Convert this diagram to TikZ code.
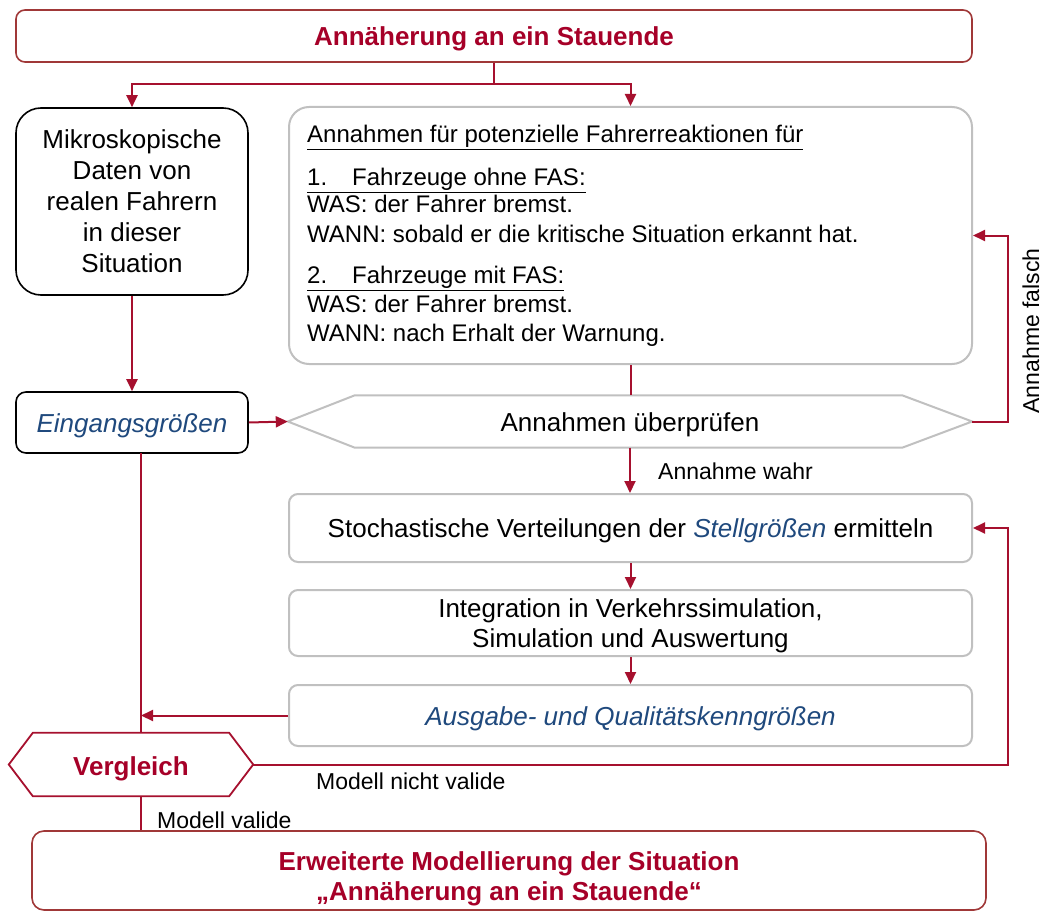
\documentclass[tikz,border=0pt]{standalone}
\usepackage{fontspec}
\setmainfont{Liberation Sans}
\usetikzlibrary{arrows.meta,calc}

\definecolor{crim}{RGB}{166,0,40}
\definecolor{crimline}{RGB}{166,16,46}
\definecolor{redframe}{RGB}{160,56,56}
\definecolor{grayframe}{RGB}{192,192,192}
\definecolor{blu}{RGB}{31,73,125}

\newcommand{\bigtext}{\fontsize{26}{31}\selectfont}
\newcommand{\midtext}{\fontsize{24}{29}\selectfont}
\newcommand{\smalltext}{\fontsize{23}{28}\selectfont}

\tikzset{
  capcenter/.style={text height=19pt, text depth=0pt},
  redbox/.style={draw=redframe, line width=1.6pt, rounded corners=9pt, fill=white,
    font=\bigtext\bfseries, text=crim, inner sep=0pt},
  blackbox/.style={draw=black, line width=1.6pt, fill=white, font=\bigtext,
    align=center, inner sep=0pt},
  graybox/.style={draw=grayframe, line width=2pt, rounded corners=9pt, fill=white,
    font=\bigtext, align=center, inner sep=0pt},
  hexarea/.style={inner sep=0pt},
  hexgray/.style={draw=grayframe, line width=2pt, fill=white},
  hexred/.style={draw=crimline, line width=1.8pt, fill=white},
  flow/.style={draw=crimline, line width=2pt},
  flowarrow/.style={flow, -{Triangle[length=12pt,width=11pt]}},
  annline/.style={anchor=base west, inner sep=0pt, font=\midtext},
  edgelabel/.style={inner sep=0pt, font=\smalltext},
}

\begin{document}
\begin{tikzpicture}[x=1pt, y=-1pt]
\useasboundingbox (0,0) rectangle (1043,912);

% --- top title box
\node[redbox, capcenter, minimum width=956pt, minimum height=52pt] (top) at (494,36) {Annäherung an ein Stauende};

% --- left column
\node[blackbox, rounded corners=25pt, minimum width=232pt, minimum height=187pt] (micro) at (132,201.5)
  {Mikroskopische\\Daten von\\realen Fahrern\\in dieser\\Situation};
\node[blackbox, capcenter, rounded corners=10pt, minimum width=232pt, minimum height=61pt] (eing) at (132,422.5)
  {\itshape\color{blu}Eingangsgrößen};

% --- assumptions box
\node[graybox, rounded corners=20pt, minimum width=683pt, minimum height=257pt] (ann) at (630.5,235.5) {};
\node[annline] (a0) at (307,143) {\underline{Annahmen für potenzielle Fahrerreaktionen für}};
\node[annline] (a1) at (307,185.5) {\underline{\makebox[45pt][l]{1.}Fahrzeuge ohne FAS:}};
\node[annline] (a2) at (307,212.5) {WAS: der Fahrer bremst.};
\node[annline] (a3) at (307,242) {WANN: sobald er die kritische Situation erkannt hat.};
\node[annline] (a4) at (307,283.5) {\underline{\makebox[45pt][l]{2.}Fahrzeuge mit FAS:}};
\node[annline] (a5) at (307,312.5) {WAS: der Fahrer bremst.};
\node[annline] (a6) at (307,341.5) {WANN: nach Erhalt der Warnung.};

% --- check hexagon
\node[hexarea, minimum width=684pt, minimum height=52pt] (check) at (630,421.5) {};
\draw[hexgray] (check.west) -- ($(check.north west)+(67,0)$) -- ($(check.north east)+(-70,0)$)
  -- (check.east) -- ($(check.south east)+(-70,0)$) -- ($(check.south west)+(67,0)$) -- cycle;
\node[font=\bigtext, capcenter, inner sep=0pt] (checktext) at (check.center) {Annahmen überprüfen};

% --- process chain
\node[graybox, capcenter, minimum width=683pt, minimum height=68pt] (stoch) at (630.5,528)
  {Stochastische Verteilungen der {\itshape\color{blu}Stellgrößen} ermitteln};
\node[graybox, minimum width=683pt, minimum height=66pt] (integ) at (630.5,623) {};
\node[font=\bigtext, align=center, inner sep=0pt] (integtext) at (630.5,626)
  {Integration in Verkehrssimulation,\\[-1pt]Simulation und Auswertung};
\node[graybox, capcenter, minimum width=683pt, minimum height=61pt] (ausg) at (630.5,715.5)
  {\itshape\color{blu}Ausgabe- und Qualitätskenngrößen};

% --- comparison hexagon
\node[hexarea, minimum width=244pt, minimum height=63pt] (verg) at (131,764.5) {};
\draw[hexred] (verg.west) -- ($(verg.north west)+(24,0)$) -- ($(verg.north east)+(-24,0)$)
  -- (verg.east) -- ($(verg.south east)+(-24,0)$) -- ($(verg.south west)+(24,0)$) -- cycle;
\node[font=\bigtext\bfseries, capcenter, text=crim, inner sep=0pt] (vergtext) at (131,766) {Vergleich};

% --- final box
\node[redbox, rounded corners=12pt, minimum width=954pt, minimum height=79pt] (final) at (509,870.5) {};
\node[font=\bigtext\bfseries, text=crim, align=center, inner sep=0pt] (finaltext) at (509,879)
  {Erweiterte Modellierung der Situation\\[-1pt]„Annäherung an ein Stauende“};

% --- connectors
\coordinate (split) at (494,84);
\draw[flow] (top.south) -- (split);
\draw[flowarrow] (split) -| (micro.north);
\draw[flowarrow] (split) -| (ann.north);
\draw[flowarrow] (micro.south) -- (eing.north);
\draw[flowarrow] (eing.east) -- (check.west);
\draw[flow] (ann.south) -- (ann.south |- check.north);

\coordinate (backA) at (1008,421.5);
\draw[flowarrow] (check.east) -- (backA) |- (ann.east);
\node[edgelabel, rotate=90, anchor=base] (falsch) at (1039,331) {Annahme falsch};

\draw[flowarrow] (check.south) -- (check.south |- stoch.north);
\node[edgelabel, anchor=west] (wahr) at (658,471) {Annahme wahr};

\draw[flowarrow] (stoch.south) -- (integ.north);
\draw[flowarrow] (integ.south) -- (ausg.north);

\coordinate (vline) at (141,453);
\draw[flow] (vline) -- (vline |- verg.north);
\draw[flowarrow] (ausg.west) -- (vline |- ausg.west);

\coordinate (backB) at (1008,764.5);
\draw[flowarrow] (verg.east) -- (backB) |- (stoch.east);
\node[edgelabel, anchor=west] (nichtvalide) at (316,781) {Modell nicht valide};

\draw[flow] (vline |- verg.south) -- (vline |- final.north);
\node[edgelabel, anchor=west] (valide) at (157,820) {Modell valide};
\end{tikzpicture}
\end{document}
